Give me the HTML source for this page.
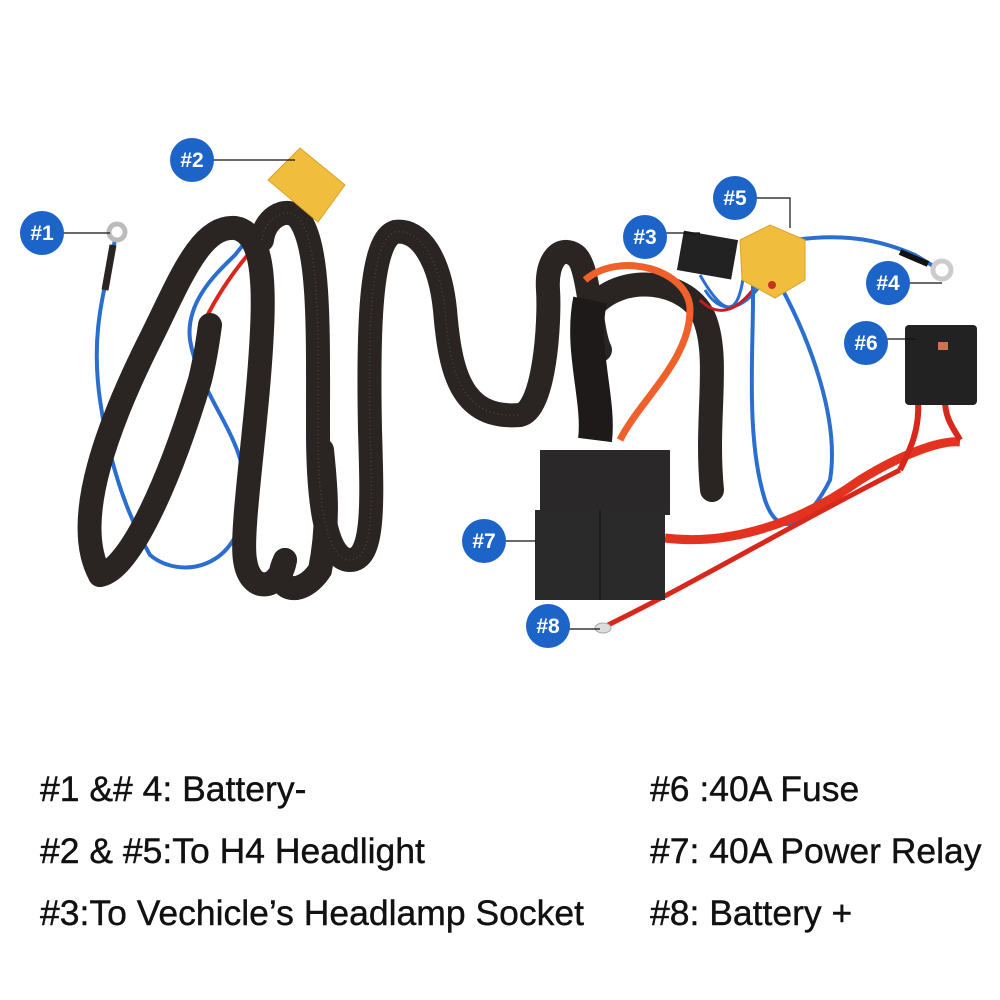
<!DOCTYPE html>
<html><head><meta charset="utf-8"><style>
html,body{margin:0;padding:0;background:#fff;width:1000px;height:1000px;overflow:hidden}
.t{position:absolute;font-family:"Liberation Sans",sans-serif;font-size:35.5px;color:#111;white-space:nowrap;-webkit-text-stroke:0.4px #111}
</style></head><body>
<svg width="1000" height="1000" style="position:absolute;left:0;top:0" xmlns="http://www.w3.org/2000/svg">
<!-- blue wire #1 -->
<path d="M115,240 C105,290 90,330 100,400 C110,470 130,520 150,555 C180,580 240,570 245,500 C250,440 200,400 190,340 C185,300 220,270 235,255 L275,205" fill="none" stroke="#2a6fd0" stroke-width="4"/>
<path d="M290,210 C260,240 230,270 205,320" fill="none" stroke="#d8281c" stroke-width="4"/>
<g fill="none" stroke="#2a2523" stroke-width="24" stroke-linecap="round">
<path d="M100,575 C70,520 110,420 150,340 C180,280 200,225 235,228 C260,232 265,270 262,330 C258,420 240,530 245,560 C250,595 280,590 285,560"/>
<path d="M100,575 C130,570 170,480 200,380 C205,360 208,340 210,325"/>
<path d="M262,240 C265,215 290,205 300,220 C320,250 318,330 318,430 C318,520 330,560 350,560 C375,560 372,500 370,430 C368,330 370,240 395,232 C420,228 440,260 445,310 C450,370 460,420 520,415 C545,410 550,320 548,290 C546,260 560,245 575,255 C590,265 590,330 600,350"/>
<path d="M590,310 C620,270 690,280 705,320 C720,360 705,420 712,490"/>
<path d="M285,560 C270,590 300,600 320,570 C330,520 325,480 322,450"/>
</g>
<g fill="none" stroke="#4a4340" stroke-width="1.5" stroke-dasharray="1 3">
<path d="M262,240 C265,215 290,205 300,220 C320,250 318,330 318,430 C318,520 330,560 350,560 C375,560 372,500 370,430 C368,330 370,240 395,232 C420,228 440,260 445,310 C450,370 460,420 520,415"/>
</g>
<path d="M585,280 C620,250 690,270 690,310 C690,360 640,400 620,440" fill="none" stroke="#f0602a" stroke-width="7"/>
<path d="M590,300 C580,350 600,400 595,440" fill="none" stroke="#1e1a19" stroke-width="34"/>
<path d="M700,275 C720,310 740,330 745,260 M705,290 C730,330 760,290 770,270" fill="none" stroke="#2a6fd0" stroke-width="3"/>
<path d="M700,300 C720,320 740,310 760,280" fill="none" stroke="#c81c20" stroke-width="3"/>
<path d="M750,250 C760,300 740,420 765,500 C780,545 810,520 830,480 C840,420 810,340 780,285" fill="none" stroke="#2a6fd0" stroke-width="4"/>
<path d="M795,240 C830,235 870,235 915,255 L935,267" fill="none" stroke="#2a6fd0" stroke-width="4"/>
<path d="M900,252 L928,264" stroke="#111" stroke-width="6"/>
<circle cx="942" cy="270" r="9" fill="none" stroke="#ccc" stroke-width="5"/>
<path d="M665,538 C720,545 790,530 860,480 C900,455 940,440 960,442" fill="none" stroke="#e33220" stroke-width="9"/>
<path d="M918,400 C920,430 910,450 900,470 M945,400 C945,420 955,430 960,440" fill="none" stroke="#d8281c" stroke-width="6"/>
<path d="M608,625 C700,580 800,520 900,470" fill="none" stroke="#d8281c" stroke-width="5"/>
<ellipse cx="603" cy="628" rx="8" ry="5" fill="#ddd" stroke="#aaa"/>
<path d="M113,245 L105,290" stroke="#2a2523" stroke-width="7"/>
<circle cx="117" cy="232" r="8" fill="none" stroke="#bbb" stroke-width="5"/>
<path d="M268,180 L300,148 L345,185 L318,222 Z" fill="#f0be3c" stroke="#d9a22a"/>
<rect x="680" y="235" width="55" height="40" fill="#222" transform="rotate(10 707 255)"/>
<path d="M740,240 L770,225 L805,240 L805,280 L775,298 L742,280 Z" fill="#f0be3c" stroke="#d9a22a"/>
<circle cx="772" cy="285" r="4" fill="#c83020"/>
<rect x="905" y="325" width="72" height="80" rx="4" fill="#222"/>
<rect x="938" y="342" width="10" height="8" fill="#d07050"/>
<rect x="540" y="450" width="130" height="65" fill="#2a2828"/>
<rect x="535" y="510" width="65" height="90" fill="#2b2a2a"/>
<rect x="600" y="510" width="65" height="90" fill="#2b2a2a"/>
<line x1="600" y1="510" x2="600" y2="600" stroke="#111"/>
<g stroke="#111" stroke-width="1.2" fill="none">
<path d="M55,233 H110"/><path d="M205,160 H295"/><path d="M658,233 H700"/>
<path d="M748,198 H790 V228"/><path d="M900,283 H942"/><path d="M880,339 H915"/>
<path d="M497,541 H536"/><path d="M560,629 H600"/>
</g>
<g fill="#1d64c8">
<circle cx="42" cy="233" r="22"/><circle cx="192" cy="160" r="22"/><circle cx="645" cy="237" r="22"/>
<circle cx="735" cy="198" r="22"/><circle cx="888" cy="283" r="22"/><circle cx="866" cy="343" r="22"/>
<circle cx="484" cy="541" r="22"/><circle cx="548" cy="626" r="22"/>
</g>
<g fill="#fff" font-family="Liberation Sans, sans-serif" font-size="21" font-weight="bold" text-anchor="middle">
<text x="42" y="240">#1</text><text x="192" y="167">#2</text><text x="645" y="244">#3</text>
<text x="735" y="205">#5</text><text x="888" y="290">#4</text><text x="866" y="350">#6</text>
<text x="484" y="548">#7</text><text x="548" y="633">#8</text>
</g>
</svg>
<div class="t" style="left:40px;top:769px">#1 &amp;# 4: Battery-</div>
<div class="t" style="left:40px;top:831px">#2 &amp; #5:To H4 Headlight</div>
<div class="t" style="left:40px;top:893px">#3:To Vechicle’s Headlamp Socket</div>
<div class="t" style="left:650px;top:769px">#6 :40A Fuse</div>
<div class="t" style="left:650px;top:831px">#7: 40A Power Relay</div>
<div class="t" style="left:650px;top:893px">#8: Battery +</div>
</body></html>
